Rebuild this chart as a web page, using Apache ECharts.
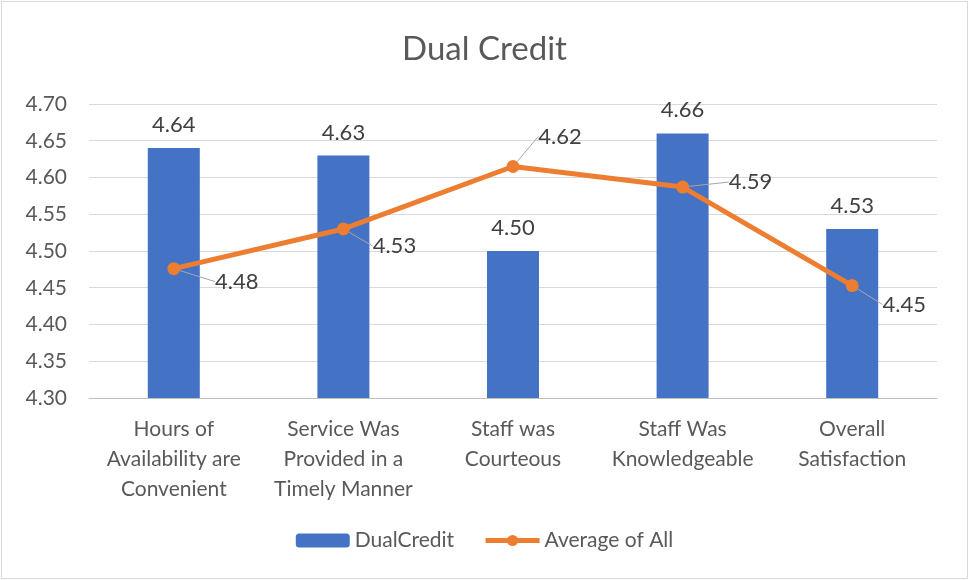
<!DOCTYPE html>
<html>
<head>
<meta charset="utf-8">
<script src="https://cdn.jsdelivr.net/npm/echarts@6/dist/echarts.min.js"></script>
<style>
html, body { margin: 0; padding: 0; background: #fff; }
#chart { position: absolute; left: 1px; top: 1px; width: 965px; height: 576px; border: 1px solid #d9d9d9; }
</style>
</head>
<body>
<div id="chart"></div>
<script>
var categories = ["Hours of\nAvailability are\nConvenient", "Service Was\nProvided in a\nTimely Manner", "Staff was\nCourteous", "Staff Was\nKnowledgeable", "Overall\nSatisfaction"];
var dualCredit = [4.64, 4.63, 4.50, 4.66, 4.53];
var averageAll = [4.476, 4.53, 4.615, 4.587, 4.453];
var yTicks = [4.30, 4.70, 0.05];

// label offsets for the line series (leader lines)
var labelOffsets = [[63, 13], [51, 17], [47, -30], [68, -5], [52, 19]];

var font = "Lato, 'Noto Sans', sans-serif";
var myChart = echarts.init(document.getElementById('chart'));

var option = {
    animation: false,
    textStyle: { fontFamily: font },
    title: {
        text: 'Dual Credit',
        left: 'center',
        top: 26,
        textStyle: { fontFamily: font, fontSize: 33, fontWeight: 'normal', color: '#595959' }
    },
    legend: {
        bottom: 22,
        left: 'center',
        itemGap: 29,
        itemWidth: 54,
        itemHeight: 14,
        textStyle: { fontFamily: font, fontSize: 21, color: '#595959' },
        data: [
            { name: 'DualCredit' },
            { name: 'Average of All', lineStyle: { width: 5 } }
        ]
    },
    grid: { left: 87, right: 30, top: 102, bottom: 180 },
    xAxis: {
        type: 'category',
        data: categories,
        axisLine: { lineStyle: { color: '#bfbfbf' } },
        axisTick: { show: false },
        axisLabel: { fontFamily: font, fontSize: 21, color: '#595959', lineHeight: 30, margin: 16, interval: 0 }
    },
    yAxis: {
        type: 'value',
        min: yTicks[0],
        max: yTicks[1],
        interval: yTicks[2],
        axisLine: { show: false },
        axisTick: { show: false },
        splitLine: { lineStyle: { color: '#d9d9d9', width: 1 } },
        axisLabel: {
            fontFamily: font, fontSize: 21, color: '#595959', margin: 22,
            formatter: function (v) { return v.toFixed(2); }
        }
    },
    series: [
        {
            name: 'DualCredit',
            type: 'bar',
            data: dualCredit,
            barWidth: 52,
            itemStyle: { color: '#4472c4' },
            label: {
                show: true,
                position: 'top',
                distance: 12,
                fontFamily: font, fontSize: 22, color: '#404040',
                formatter: function (p) { return p.value.toFixed(2); }
            }
        },
        {
            name: 'Average of All',
            type: 'line',
            data: averageAll,
            symbol: 'circle',
            symbolSize: 13,
            lineStyle: { color: '#ed7d31', width: 5 },
            itemStyle: { color: '#ed7d31' },
            label: {
                show: true,
                position: 'inside',
                fontFamily: font, fontSize: 22, color: '#404040',
                formatter: function (p) { return p.value.toFixed(2); }
            },
            labelLine: { show: true, lineStyle: { color: '#a6a6a6', width: 1 } },
            labelLayout: function (params) {
                var o = labelOffsets[params.dataIndex];
                return { dx: o[0], dy: o[1] };
            }
        }
    ]
};

myChart.setOption(option, true);
</script>
</body>
</html>
